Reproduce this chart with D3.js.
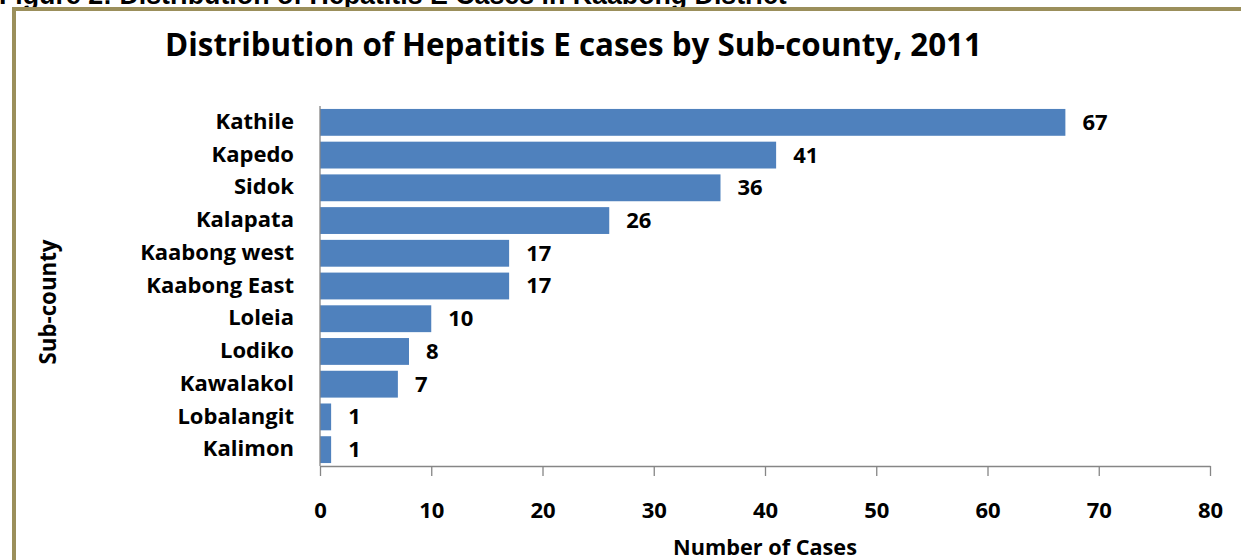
<!DOCTYPE html>
<html><head><meta charset="utf-8">
<script src="https://cdn.jsdelivr.net/npm/d3@7"></script>
<style>html,body{margin:0;padding:0;background:#fff;overflow:hidden}</style>
</head><body>
<svg id="c" width="1241" height="560"></svg>
<script>
const categories = ["Kathile","Kapedo","Sidok","Kalapata","Kaabong west","Kaabong East","Loleia","Lodiko","Kawalakol","Lobalangit","Kalimon"];
const values = [67,41,36,26,17,17,10,8,7,1,1];
const xTicks = [0,10,20,30,40,50,60,70,80];
const titleText = "Distribution of Hepatitis E cases by Sub-county, 2011";
const captionText = "Figure 2: Distribution of Hepatitis E Cases in Kaabong District";
const xTitle = "Number of Cases";
const yTitle = "Sub-county";

const svg = d3.select("#c");
const font = "'Open Sans', Lato, sans-serif";
function fit(sel, target){
  let maxW = 0;
  sel.each(function(){ maxW = Math.max(maxW, this.getComputedTextLength()); });
  const fs = parseFloat(sel.attr("font-size"));
  sel.attr("font-size", fs*target/maxW);
}
// caption (cut at top)
const cap = svg.append("text").attr("x",-1).attr("y",4).attr("font-family","'Liberation Sans', Arial, sans-serif")
  .attr("font-weight","bold").attr("font-size",20).attr("fill","#000").text(captionText);
fit(cap, 788);
// frame
svg.append("rect").attr("x",14).attr("y",9).attr("width",1300).attr("height",600)
  .attr("fill","none").attr("stroke","#9b8f5b").attr("stroke-width",4);

const m = {left:320, right:1210, top:106, bottom:466};
const x = d3.scaleLinear().domain([0,80]).range([m.left,m.right]);
const y = d3.scaleBand().domain(categories).range([m.top,m.bottom]).paddingInner(0.18).paddingOuter(0.09);

const t = svg.append("text").attr("x",573.5).attr("y",56).attr("text-anchor","middle")
  .attr("font-family",font).attr("font-weight","bold").attr("font-size",27).attr("fill","#000").text(titleText);
fit(t, 817);

svg.selectAll("rect.bar").data(values).enter().append("rect").attr("class","bar")
  .attr("x",x(0)).attr("y",(d,i)=>y(categories[i])).attr("width",d=>x(d)-x(0)).attr("height",y.bandwidth())
  .attr("fill","#4f81bd");

svg.selectAll("text.val").data(values).enter().append("text").attr("class","val")
  .attr("x",d=>x(d)+17).attr("y",(d,i)=>y(categories[i])+y.bandwidth()/2).attr("dy","0.34em")
  .attr("font-family",font).attr("font-weight","bold").attr("font-size",22).attr("fill","#000").text(d=>d);

// y axis
const ya = svg.append("g").attr("transform",`translate(${m.left},0)`)
  .call(d3.axisLeft(y).tickSize(0).tickPadding(26));
ya.select(".domain").attr("stroke","#868686").attr("stroke-width",1.3).attr("d",`M0,${m.top}V${m.bottom}`);
const yl = ya.selectAll("text").attr("font-family",font).attr("font-weight","bold").attr("font-size",20).attr("fill","#000").attr("dy","0.3em");
fit(yl, 154);

// x axis
const xa = svg.append("g").attr("transform",`translate(0,${m.bottom})`)
  .call(d3.axisBottom(x).tickValues(xTicks).tickSize(10).tickSizeOuter(0));
xa.select(".domain").attr("stroke","#868686").attr("stroke-width",1.3);
xa.selectAll("line").attr("stroke","#868686").attr("stroke-width",1.3);
xa.selectAll("text").attr("y",518-m.bottom).attr("dy",0)
  .attr("font-family",font).attr("font-weight","bold").attr("font-size",22).attr("fill","#000");

const xt = svg.append("text").attr("x",765).attr("y",555).attr("text-anchor","middle")
  .attr("font-family",font).attr("font-weight","bold").attr("font-size",20).attr("fill","#000").text(xTitle);
fit(xt, 184);
const yt = svg.append("text").attr("transform","translate(56,302) rotate(-90)").attr("text-anchor","middle")
  .attr("font-family",font).attr("font-weight","bold").attr("font-size",20).attr("fill","#000").text(yTitle);
fit(yt, 125);
</script>
</body></html>
